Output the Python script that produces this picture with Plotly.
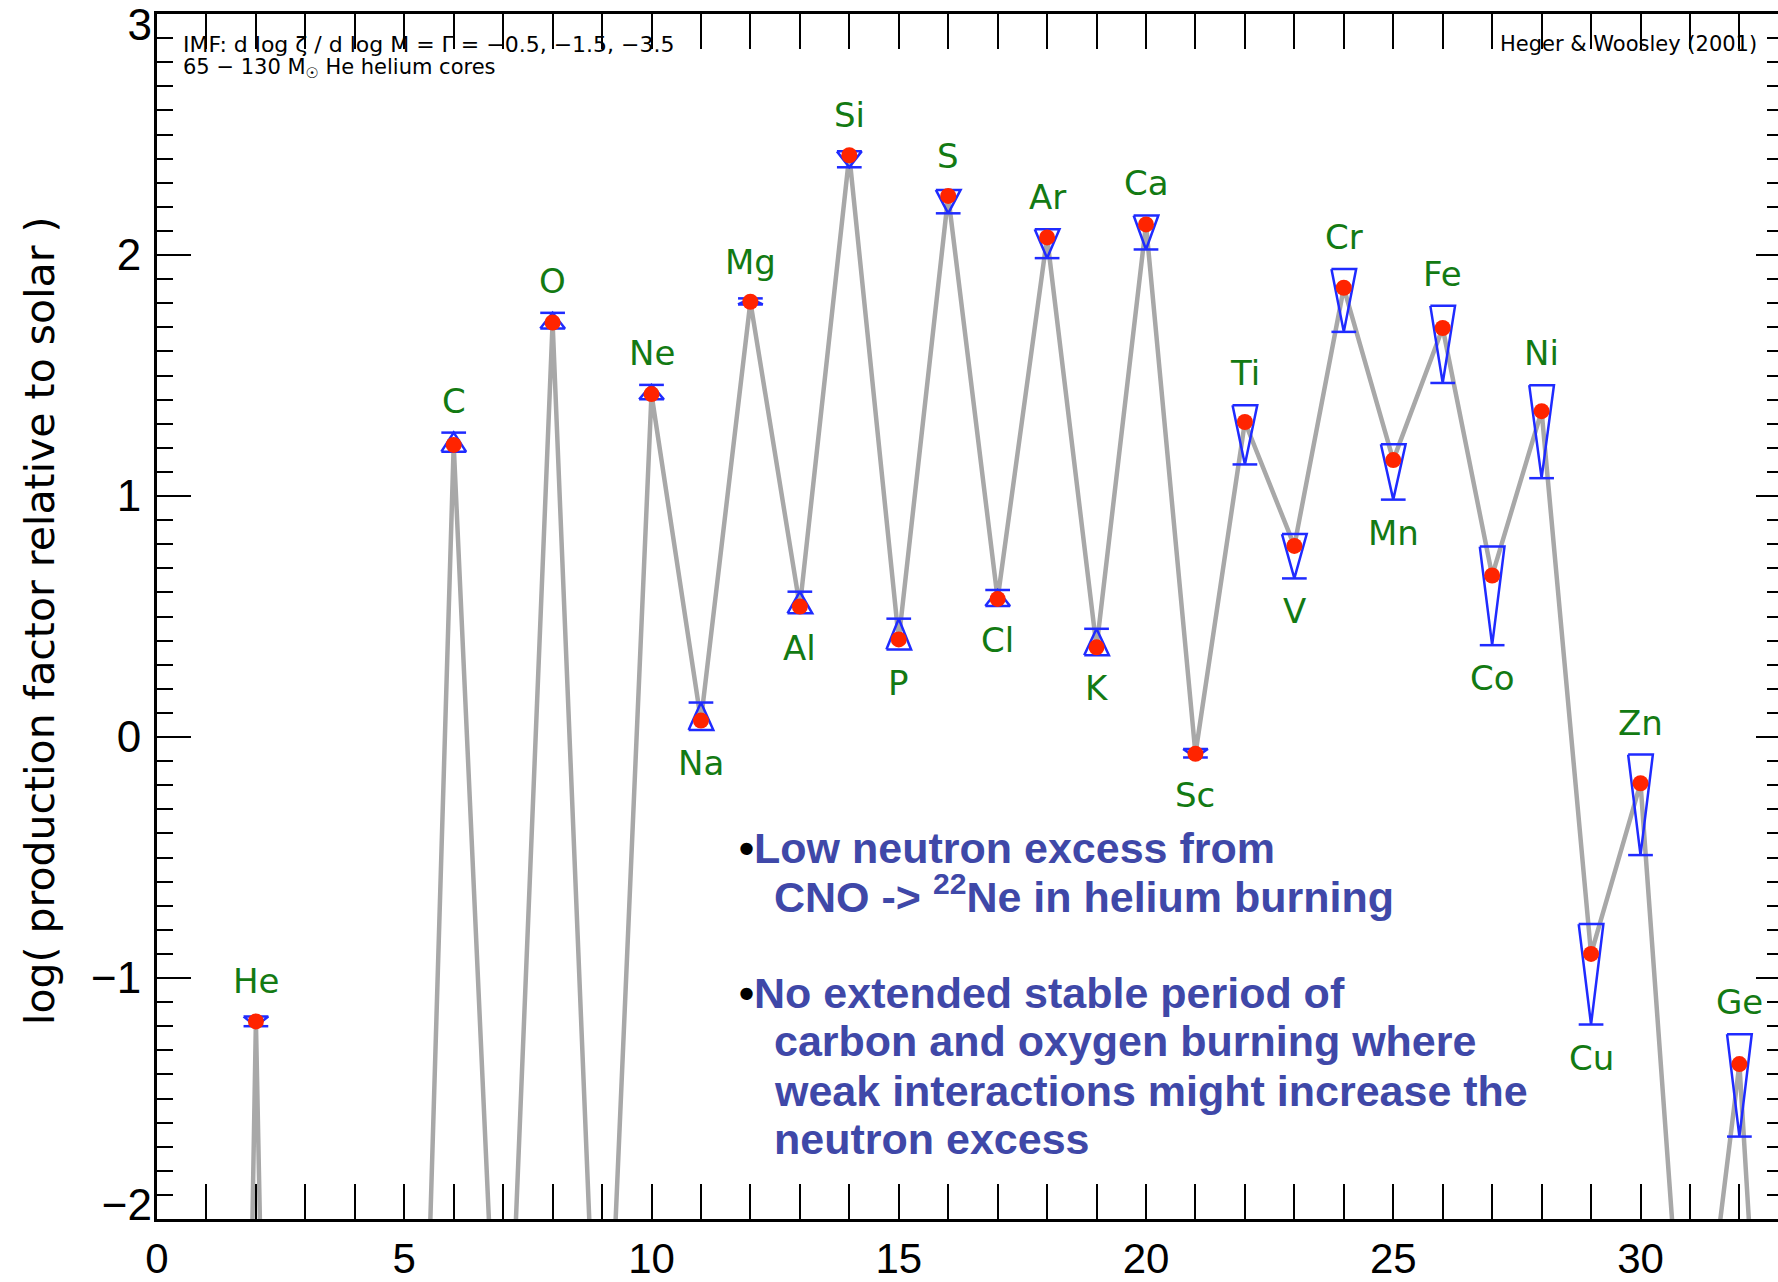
import plotly.graph_objects as go

# ---------------- data ----------------
elements = ["He", "C", "O", "Ne", "Na", "Mg", "Al", "Si", "P", "S", "Cl", "Ar", "K",
            "Ca", "Sc", "Ti", "V", "Cr", "Mn", "Fe", "Co", "Ni", "Cu", "Zn", "Ge"]
Z = [2, 6, 8, 10, 11, 12, 13, 14, 15, 16, 17, 18, 19,
     20, 21, 22, 23, 24, 25, 26, 27, 28, 29, 30, 32]
# log production factor (middle IMF slope, red dots)
log_pf = [-1.18, 1.212, 1.72, 1.423, 0.068, 1.806, 0.541, 2.414, 0.405, 2.245, 0.573, 2.073, 0.372,
          2.127, -0.07, 1.307, 0.793, 1.864, 1.149, 1.697, 0.67, 1.352, -0.90, -0.192, -1.357]
# spread over the IMF slopes: wide end of the triangle and its tip (with bar)
imf_base = [-1.16, 1.184, 1.695, 1.401, 0.029, 1.795, 0.513, 2.43, 0.363, 2.27, 0.544, 2.107, 0.339,
            2.164, -0.05, 1.377, 0.842, 1.942, 1.215, 1.789, 0.79, 1.46, -0.776, -0.073, -1.233]
imf_apex = [-1.20, 1.263, 1.76, 1.461, 0.143, 1.82, 0.603, 2.364, 0.491, 2.173, 0.61, 1.987, 0.449,
            2.023, -0.085, 1.131, 0.658, 1.681, 0.985, 1.469, 0.381, 1.074, -1.193, -0.49, -1.658]
# unlabelled elements whose values fall below the plotted range
offscale_Z = [1, 3, 4, 5, 7, 9, 31, 33]
offscale_log_pf = [-13.0, -11.4, -9.0, -5.6, -3.3, -3.3, -3.03, -4.73]

x_ticks = [0, 5, 10, 15, 20, 25, 30]
y_ticks = [-2, -1, 0, 1, 2, 3]

# ---------------- figure geometry ----------------
W, H = 1778, 1282
ML, MT, MB, MR = 157, 14, 63, 0
PLOT_W = W - ML - MR
X_MAX = PLOT_W / 49.45
Y_MIN, Y_MAX = -2, 3
PX_PER_Y = (H - MT - MB) / (Y_MAX - Y_MIN)


def ydata(py):
    return Y_MAX - (py - MT) / PX_PER_Y


def xdata(px):
    return (px - ML) / 49.45


def ylab(t):
    return ("\u2212" + str(-t)) if t < 0 else str(t)


fig = go.Figure()

# grey connecting line through all elements
pairs = sorted(list(zip(Z, log_pf)) + list(zip(offscale_Z, offscale_log_pf)))
fig.add_trace(go.Scatter(x=[p[0] for p in pairs], y=[p[1] for p in pairs], mode="lines",
                         line=dict(color="#a8a8a8", width=4.5), hoverinfo="skip",
                         showlegend=False))

# blue IMF-range markers (triangle + bar at the tip)
hw = 0.25
bx, by = [], []
for z, b, a in zip(Z, imf_base, imf_apex):
    bx += [z - hw, z + hw, z, z - hw, None, z - hw, z + hw, None]
    by += [b, b, a, b, None, a, a, None]
fig.add_trace(go.Scatter(x=bx, y=by, mode="lines", line=dict(color="#1f2bff", width=2.5),
                         hoverinfo="skip", showlegend=False))

# red dots
fig.add_trace(go.Scatter(x=Z, y=log_pf, mode="markers",
                         marker=dict(color="#ff2400", size=16, line=dict(width=0)),
                         text=elements, hoverinfo="text+y", showlegend=False))

# dummy traces for the extra tick axes
for ax in ["y2", "y3", "y4"]:
    fig.add_trace(go.Scatter(x=[None], y=[None], yaxis=ax, showlegend=False, hoverinfo="skip"))

annotations = []
dot_r = 8 / PX_PER_Y
for name, z, v, b, a in zip(elements, Z, log_pf, imf_base, imf_apex):
    if z % 2 == 0:
        yv = max(b, a, v + dot_r)
        shift = 32
    else:
        yv = min(b, a, v - dot_r)
        shift = -33
    annotations.append(dict(x=z, y=yv, xref="x", yref="y", text=name, showarrow=False,
                            yshift=shift, xanchor="center", yanchor="middle",
                            font=dict(family="DejaVu Sans", size=34, color="#137a13")))

# header texts
small = dict(family="DejaVu Sans", size=21, color="black")
annotations.append(dict(x=xdata(181), y=ydata(44), xref="x", yref="y",
                        text="IMF: d log \u03b6 / d log M = \u0393 = \u22120.5, \u22121.5, \u22123.5",
                        showarrow=False, xanchor="left", yanchor="middle",
                        font=dict(family="DejaVu Sans", size=22, color="black")))
annotations.append(dict(x=xdata(181), y=ydata(68), xref="x", yref="y",
                        text="65 \u2212 130 M<sub>\u2609</sub> He helium cores",
                        showarrow=False, xanchor="left", yanchor="middle", font=small))
annotations.append(dict(x=xdata(1759), y=ydata(44), xref="x", yref="y",
                        text="Heger &amp; Woosley (2001)",
                        showarrow=False, xanchor="right", yanchor="middle", font=small))

# y axis title (paper coordinates, left of the axis)
annotations.append(dict(x=(40 - ML) / PLOT_W, y=1 - (621 - MT) / (H - MT - MB),
                        xref="paper", yref="paper",
                        text="log( production factor relative to solar )", textangle=-90,
                        showarrow=False, xanchor="center", yanchor="middle",
                        font=dict(family="DejaVu Sans", size=41, color="black")))

# blue bullet text
bullet = "<span style='color:black'>\u2022</span>"
lines = [
    (737, 848, bullet + "Low neutron excess from"),
    (772, 894, "CNO -> <sup>22</sup>Ne in helium burning"),
    (737, 993, bullet + "No extended stable period of"),
    (772, 1041, "carbon and oxygen burning where"),
    (772, 1091, "weak interactions might increase the"),
    (772, 1139, "neutron excess"),
]
for px, py, t in lines:
    annotations.append(dict(x=xdata(px), y=ydata(py), xref="x", yref="y",
                            text="<b>" + t + "</b>", showarrow=False,
                            xanchor="left", yanchor="middle",
                            font=dict(family="Liberation Sans, Arial", size=43, color="#3f48a8")))

ytickfont = dict(family="Liberation Sans, Arial", size=44, color="black")
inner_ticks = y_ticks[1:-1]
label_axis = dict(range=[Y_MIN, Y_MAX], overlaying="y", side="left", anchor="x",
                  automargin=False, showgrid=False, zeroline=False, showline=False,
                  ticks="", tickmode="array", tickfont=ytickfont,
                  ticklabelstandoff=4, ticklabeloverflow="allow")

fig.update_layout(
    width=W, height=H,
    margin=dict(l=ML, r=MR, t=MT, b=MB, pad=0, autoexpand=False),
    paper_bgcolor="white", plot_bgcolor="white",
    showlegend=False,
    xaxis=dict(range=[0, X_MAX], showgrid=False, zeroline=False, automargin=False,
               showline=True, linecolor="black", linewidth=3, mirror="allticks",
               ticks="inside", tickmode="array", tickvals=x_ticks, ticktext=[str(t) for t in x_ticks],
               ticklen=35, tickwidth=2, tickcolor="black",
               minor=dict(tick0=0, dtick=1, ticks="inside", ticklen=16, tickwidth=2,
                          tickcolor="black", showgrid=False),
               tickfont=dict(family="Liberation Sans, Arial", size=42, color="black"),
               ticklabelstandoff=1, ticklabeloverflow="allow"),
    # main left axis: line, all ticks, labels of the inner ticks
    yaxis=dict(range=[Y_MIN, Y_MAX], showgrid=False, zeroline=False, automargin=False,
               showline=True, linecolor="black", linewidth=3,
               ticks="inside", tickmode="array", tickvals=y_ticks,
               ticktext=[ylab(t) if t in inner_ticks else "" for t in y_ticks],
               ticklen=34, tickwidth=2, tickcolor="black",
               minor=dict(tick0=0, dtick=0.1, ticks="inside", ticklen=16, tickwidth=2,
                          tickcolor="black", showgrid=False),
               tickfont=ytickfont, ticklabelstandoff=4, ticklabeloverflow="allow"),
    # right-hand tick marks (axis line falls outside the picture)
    yaxis2=dict(range=[Y_MIN, Y_MAX], overlaying="y", side="right", anchor="x",
                automargin=False,
                showgrid=False, zeroline=False, showline=False, showticklabels=False,
                ticks="inside", tickmode="array", tickvals=y_ticks,
                ticklen=22, tickwidth=2, tickcolor="black",
                minor=dict(tick0=0, dtick=0.1, ticks="inside", ticklen=11, tickwidth=2,
                           tickcolor="black", showgrid=False)),
    # top end label, nudged inside the picture
    yaxis3=dict(label_axis, tickvals=[y_ticks[-1]], ticktext=[ylab(y_ticks[-1])],
                ticklabelshift=11),
    # bottom end label, nudged up
    yaxis4=dict(label_axis, tickvals=[y_ticks[0]], ticktext=[ylab(y_ticks[0])],
                ticklabelshift=-14),
    annotations=annotations,
)

fig.write_html("out.html")
